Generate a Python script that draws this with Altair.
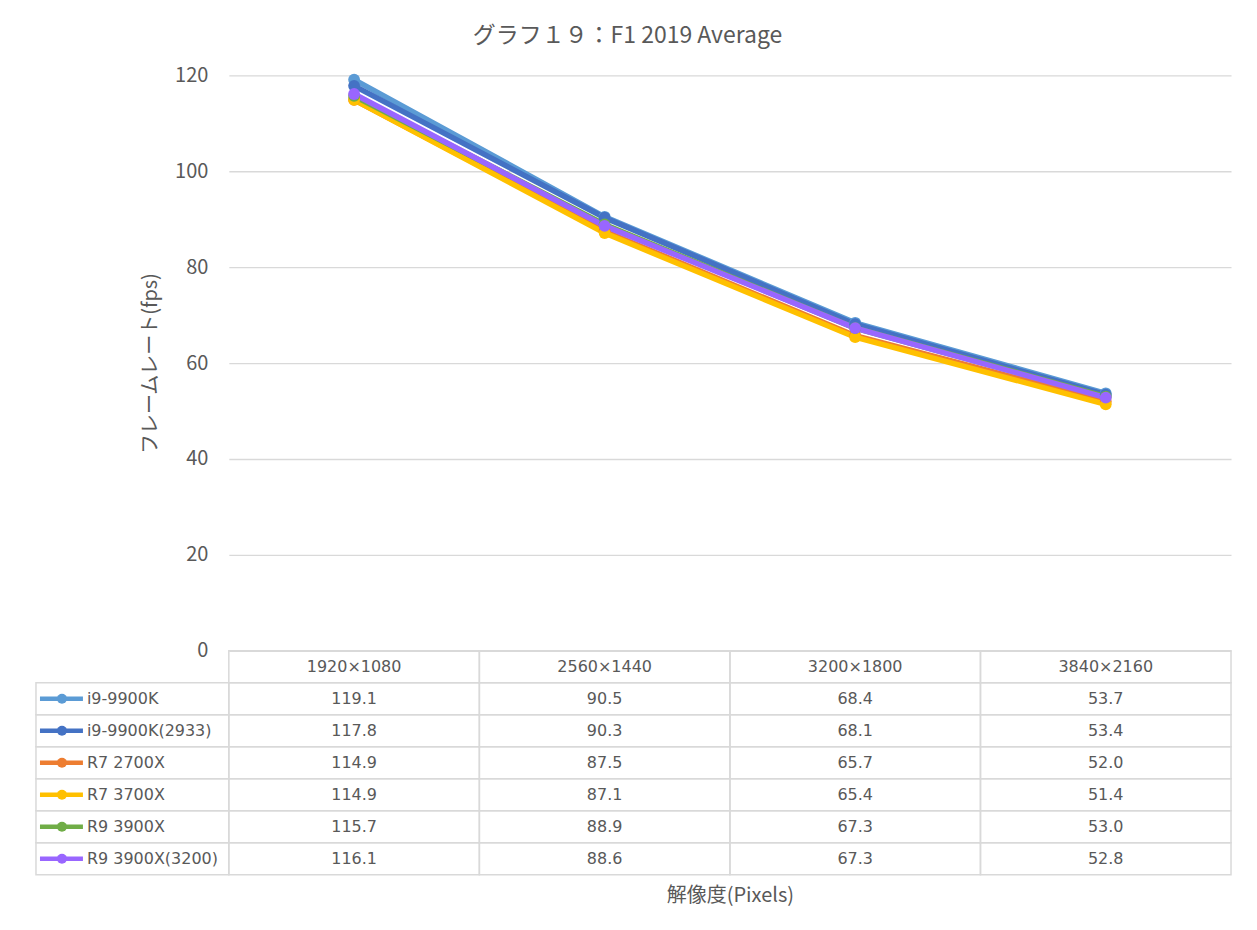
import altair as alt
import pandas as pd

categories = ["1920×1080", "2560×1440", "3200×1800", "3840×2160"]
series = ["i9-9900K", "i9-9900K(2933)", "R7 2700X", "R7 3700X", "R9 3900X", "R9 3900X(3200)"]
colors = ["#5b9bd5", "#4472c4", "#ed7d31", "#ffc000", "#70ad47", "#9966ff"]

i9_9900k = [119.1, 90.5, 68.4, 53.7]
i9_9900k_2933 = [117.8, 90.3, 68.1, 53.4]
r7_2700x = [114.9, 87.5, 65.7, 52.0]
r7_3700x = [114.9, 87.1, 65.4, 51.4]
r9_3900x = [115.7, 88.9, 67.3, 53.0]
r9_3900x_3200 = [116.1, 88.6, 67.3, 52.8]
series_values = [i9_9900k, i9_9900k_2933, r7_2700x, r7_3700x, r9_3900x, r9_3900x_3200]

y_ticks = [0, 20, 40, 60, 80, 100, 120]

CJK = "Noto Sans CJK JP"
LAT = "DejaVu Sans, Noto Sans CJK JP"
GREY = "#595959"
LINE = "#d9d9d9"

rows = []
for s, vals in zip(series, series_values):
    for c, v in zip(categories, vals):
        rows.append({"series": s, "cat": c, "value": v, "label": f"{v:.1f}"})
df = pd.DataFrame(rows)

color_scale = alt.Scale(domain=series, range=colors)

# ---------- line chart ----------
x_pt = alt.X("cat:N", sort=categories, scale=alt.Scale(type="point", padding=0.5), axis=None)
y_q = alt.Y(
    "value:Q",
    scale=alt.Scale(domain=[0, 120]),
    axis=alt.Axis(
        values=y_ticks, title="フレームレート(fps)", grid=True, gridColor=LINE, gridWidth=1.3,
        domain=False, ticks=False, labelPadding=21, labelFontSize=20, labelFont=CJK,
        labelColor=GREY, titleFont=CJK, titleFontSize=20, titleColor=GREY,
        titleFontWeight="normal", titlePadding=14,
    ),
)
col = alt.Color("series:N", scale=color_scale, legend=None)

lines = alt.Chart(df).mark_line(strokeWidth=5.5).encode(x=x_pt, y=y_q, color=col)
points = alt.Chart(df).mark_circle(size=140, opacity=1).encode(x=x_pt, y=y_q, color=col)
top = alt.layer(lines, points).properties(width=1003, height=576)

# ---------- data table ----------
row_keys = ["__hdr"] + series
tdf = pd.DataFrame(
    [{"col": c, "row": "__hdr", "txt": c} for c in categories]
    + [{"col": r["cat"], "row": r["series"], "txt": r["label"]} for r in rows]
)
sdf = pd.DataFrame({"row": series, "series": series})

xb = alt.X(
    "col:N", sort=categories,
    scale=alt.Scale(type="band", domain=categories, paddingInner=0, paddingOuter=0),
    axis=alt.Axis(labels=False, ticks=False, domain=False, grid=False, title="解像度(Pixels)",
                  titleFont=CJK, titleFontSize=20, titleColor=GREY, titleFontWeight="normal",
                  titlePadding=11),
)
yb = alt.Y("row:N", sort=row_keys,
           scale=alt.Scale(type="band", domain=row_keys, paddingInner=0, paddingOuter=0),
           axis=None)
yc = alt.Y("row:N", sort=row_keys, bandPosition=0.5,
           scale=alt.Scale(type="band", domain=row_keys, paddingInner=0, paddingOuter=0),
           axis=None)

cells = alt.Chart(tdf).mark_rect(fillOpacity=0, stroke=LINE, strokeWidth=1.5).encode(x=xb, y=yb)
left_cells = alt.Chart(sdf).mark_rect(fillOpacity=0, stroke=LINE, strokeWidth=1.5).encode(
    x=alt.value(-193), x2=alt.value(0), y=yb)
cell_text = alt.Chart(tdf).mark_text(font=LAT, fontSize=16, color=GREY).encode(
    x=xb, y=yc, text="txt:N")
sym_line = alt.Chart(sdf).mark_rule(strokeWidth=4.5).encode(
    x=alt.value(-189), x2=alt.value(-146), y=yc, color=col)
sym_pt = alt.Chart(sdf).mark_circle(size=100, opacity=1).encode(
    x=alt.value(-167), y=yc, color=col)
names = alt.Chart(sdf).mark_text(font=LAT, fontSize=16, color=GREY, align="left").encode(
    x=alt.value(-142), y=yc, text="series:N")

table = alt.layer(cells, left_cells, cell_text, sym_line, sym_pt, names).properties(
    width=1003, height=224)

chart = alt.vconcat(top, table, spacing=0, bounds="flush").properties(
    title=alt.Title("グラフ１９：F1 2019 Average", fontSize=23, font=CJK, color=GREY,
                    fontWeight="normal", offset=17, anchor="middle", dx=-6),
    padding={"left": 27, "top": 17, "right": 17, "bottom": 10},
).configure(background="white").configure_view(stroke=None)

chart.save("out.html", embed_options={"renderer": "svg", "actions": False})
